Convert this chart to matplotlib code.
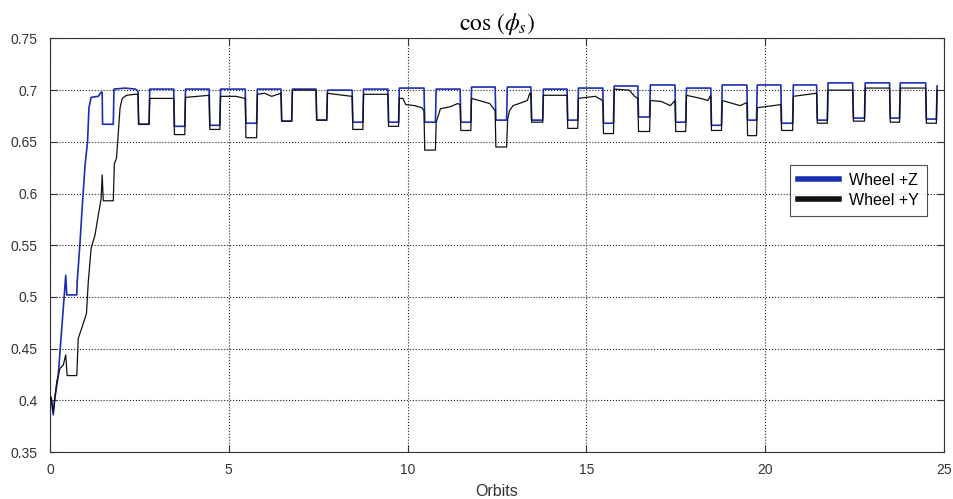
import matplotlib
matplotlib.use("Agg")
import matplotlib.pyplot as plt
from matplotlib.ticker import FuncFormatter

# ---- data ----
blue_x = [0.00, 0.03, 0.09, 0.14, 0.23, 0.33, 0.40, 0.44, 0.47, 0.75, 0.76, 0.84, 0.90, 0.98, 1.05, 1.09, 1.15, 1.35, 1.43,
          1.46, 1.47, 1.77, 1.79, 2.10, 2.39, 2.46,
          2.48, 2.77, 2.79, 3.46,
          3.48, 3.77, 3.79, 4.45,
          4.47, 4.75, 4.77, 5.46,
          5.48, 5.78, 5.80, 6.46,
          6.48, 6.76, 6.78, 7.44,
          7.46, 7.74, 7.76, 8.45,
          8.47, 8.75, 8.77, 9.45,
          9.47, 9.75, 9.77, 10.46,
          10.48, 10.78, 10.80, 11.47,
          11.49, 11.77, 11.79, 12.45,
          12.47, 12.77, 12.79, 13.45,
          13.47, 13.78, 13.80, 14.46,
          14.48, 14.76, 14.78, 15.46,
          15.48, 15.76, 15.78, 16.44,
          16.46, 16.77, 16.79, 17.48,
          17.50, 17.78, 17.80, 18.48,
          18.50, 18.78, 18.80, 19.49,
          19.51, 19.76, 19.78, 20.44,
          20.46, 20.77, 20.79, 21.44,
          21.46, 21.74, 21.76, 22.45,
          22.47, 22.78, 22.80, 23.48,
          23.50, 23.76, 23.78, 24.49,
          24.51, 24.79, 24.81]
blue_y = [0.400, 0.403, 0.386, 0.403, 0.424, 0.470, 0.502, 0.521, 0.502, 0.502, 0.514, 0.553, 0.586, 0.627, 0.650, 0.683, 0.693, 0.694, 0.698,
          0.698, 0.667, 0.667, 0.701, 0.702, 0.701, 0.699,
          0.667, 0.667, 0.701, 0.701,
          0.665, 0.665, 0.701, 0.701,
          0.666, 0.666, 0.701, 0.701,
          0.668, 0.668, 0.701, 0.701,
          0.670, 0.670, 0.701, 0.701,
          0.671, 0.671, 0.700, 0.700,
          0.669, 0.669, 0.701, 0.701,
          0.669, 0.669, 0.702, 0.702,
          0.669, 0.669, 0.701, 0.701,
          0.669, 0.669, 0.703, 0.703,
          0.671, 0.671, 0.703, 0.703,
          0.671, 0.671, 0.701, 0.701,
          0.671, 0.671, 0.702, 0.702,
          0.668, 0.668, 0.704, 0.704,
          0.674, 0.674, 0.705, 0.705,
          0.669, 0.669, 0.702, 0.702,
          0.666, 0.666, 0.705, 0.705,
          0.671, 0.671, 0.705, 0.705,
          0.668, 0.668, 0.705, 0.705,
          0.671, 0.671, 0.707, 0.707,
          0.673, 0.673, 0.707, 0.707,
          0.673, 0.673, 0.707, 0.707,
          0.672, 0.672, 0.704]

black_x = [0.00, 0.03, 0.09, 0.19, 0.28, 0.37, 0.44, 0.48, 0.75, 0.79, 0.89, 1.02, 1.07, 1.15, 1.26, 1.35, 1.43, 1.46, 1.49, 1.77,
           1.80, 1.86, 1.91, 1.96, 2.02, 2.14, 2.38, 2.46,
           2.48, 2.77, 2.79, 3.46,
           3.48, 3.77, 3.79, 4.45,
           4.47, 4.75, 4.77, 5.20, 5.46,
           5.48, 5.78, 5.80, 6.00, 6.20, 6.46,
           6.48, 6.76, 6.78, 7.44,
           7.46, 7.74, 7.76, 8.20, 8.45,
           8.47, 8.75, 8.77, 9.45,
           9.47, 9.75, 9.77, 9.87, 9.95, 10.20, 10.40, 10.46,
           10.48, 10.78, 10.80, 10.92, 11.20, 11.40, 11.47,
           11.49, 11.77, 11.79, 12.00, 12.30, 12.45,
           12.47, 12.77, 12.80, 12.85, 12.95, 13.20, 13.35, 13.42, 13.45,
           13.47, 13.78, 13.80, 14.46,
           14.48, 14.76, 14.78, 15.00, 15.25, 15.46,
           15.48, 15.76, 15.78, 16.20, 16.35, 16.44,
           16.46, 16.77, 16.79, 17.10, 17.35, 17.48,
           17.50, 17.78, 17.80, 18.20, 18.40, 18.48,
           18.50, 18.78, 18.80, 19.30, 19.49,
           19.51, 19.76, 19.78, 20.44,
           20.46, 20.77, 20.79, 21.44,
           21.46, 21.74, 21.76, 22.45,
           22.47, 22.78, 22.80, 23.48,
           23.50, 23.76, 23.78, 24.49,
           24.51, 24.79, 24.81]
black_y = [0.400, 0.403, 0.389, 0.418, 0.431, 0.434, 0.444, 0.424, 0.424, 0.460, 0.470, 0.484, 0.514, 0.547, 0.560, 0.579, 0.595, 0.618, 0.593, 0.593,
           0.629, 0.634, 0.659, 0.683, 0.692, 0.695, 0.696, 0.696,
           0.667, 0.667, 0.692, 0.692,
           0.657, 0.657, 0.693, 0.695,
           0.662, 0.662, 0.694, 0.694, 0.692,
           0.654, 0.654, 0.696, 0.697, 0.694, 0.697,
           0.670, 0.670, 0.700, 0.700,
           0.671, 0.671, 0.697, 0.695, 0.694,
           0.662, 0.662, 0.696, 0.696,
           0.665, 0.665, 0.692, 0.692, 0.686, 0.685, 0.683, 0.680,
           0.642, 0.642, 0.669, 0.682, 0.684, 0.687, 0.686,
           0.661, 0.661, 0.692, 0.690, 0.687, 0.680,
           0.645, 0.645, 0.672, 0.680, 0.685, 0.688, 0.690, 0.697, 0.697,
           0.669, 0.669, 0.695, 0.695,
           0.663, 0.663, 0.692, 0.693, 0.694, 0.690,
           0.658, 0.658, 0.701, 0.700, 0.694, 0.692,
           0.660, 0.660, 0.690, 0.689, 0.685, 0.690,
           0.660, 0.660, 0.695, 0.692, 0.690, 0.695,
           0.661, 0.661, 0.690, 0.685, 0.688,
           0.656, 0.656, 0.683, 0.686,
           0.661, 0.661, 0.694, 0.697,
           0.668, 0.668, 0.700, 0.700,
           0.670, 0.670, 0.702, 0.702,
           0.669, 0.669, 0.702, 0.702,
           0.668, 0.668, 0.700]

series_labels = ["Wheel +Z", "Wheel +Y"]
x_ticks = [0, 5, 10, 15, 20, 25]
y_ticks = [0.35, 0.40, 0.45, 0.50, 0.55, 0.60, 0.65, 0.70, 0.75]
title_text = r"$\cos\,(\phi_s)$"
x_label = "Orbits"

# ---- plotting ----
plt.rcParams['mathtext.fontset'] = 'stix'
plt.rcParams['font.family'] = ['Liberation Sans', 'DejaVu Sans']

fig = plt.figure(figsize=(9.54, 4.99), dpi=100)
ax = fig.add_axes([0.0524, 0.094, 0.937, 0.829])

ax.plot(blue_x, blue_y, color='#1a2fb0', lw=1.2, label=series_labels[0], zorder=3)
ax.plot(black_x, black_y, color='#111111', lw=0.9, label=series_labels[1], zorder=4)

ax.set_xlim(0, 25)
ax.set_ylim(0.35, 0.75)
ax.set_xticks(x_ticks)
ax.set_yticks(y_ticks)
ax.yaxis.set_major_formatter(FuncFormatter(lambda v, p: ('%.2f' % v).rstrip('0')))
ax.tick_params(direction='in', top=True, right=True, length=5, width=0.8,
               labelsize=10, labelcolor='#333333', color='#333333')
ax.tick_params(axis='y', pad=9)
ax.tick_params(axis='x', pad=8)
ax.grid(True, linestyle=':', color='#222222', lw=0.8)
for sp in ax.spines.values():
    sp.set_color('#333333')
    sp.set_linewidth(0.8)

ax.set_title(title_text, fontsize=17, pad=6)
ax.set_xlabel(x_label, fontsize=11.5, color='#333333', labelpad=5)

leg = ax.legend(loc='upper right', bbox_to_anchor=(0.981, 0.694), borderaxespad=0,
                frameon=True, fancybox=False, fontsize=11.5, handlelength=2.6,
                handletextpad=0.6, borderpad=0.5, labelspacing=0.3)
leg.get_frame().set_edgecolor('#222222')
leg.get_frame().set_linewidth(0.8)
for h in leg.get_lines():
    h.set_linewidth(4)

fig.savefig('out.png', dpi=100)
